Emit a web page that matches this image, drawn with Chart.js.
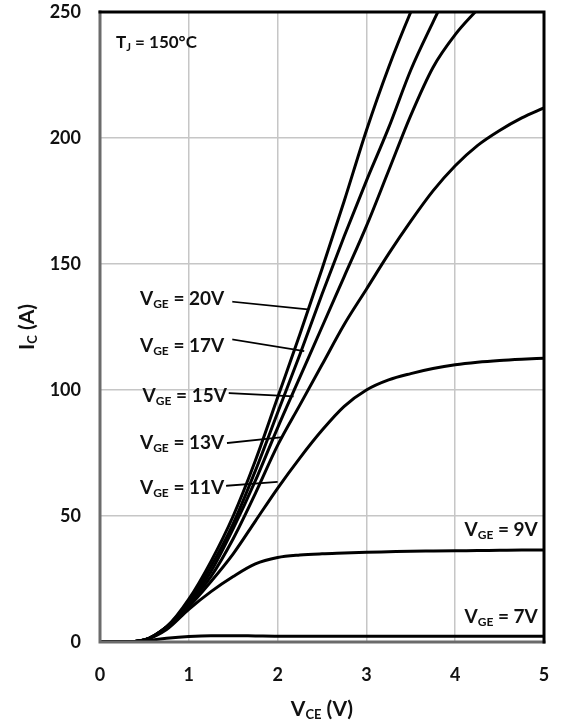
<!DOCTYPE html>
<html>
<head>
<meta charset="utf-8">
<script src="https://cdn.jsdelivr.net/npm/chart.js@4.4.1/dist/chart.umd.min.js"></script>
<style>
  html, body { margin: 0; padding: 0; background: #fff; }
  #wrap { width: 563px; height: 725px; position: relative; }
</style>
</head>
<body>
<div id="wrap"><canvas id="ic-chart"></canvas></div>
<script>
// V_CE sample points (V)
const vce = [0, 0.25, 0.5, 0.75, 1, 1.25, 1.5, 1.75, 2, 2.25, 2.5, 2.75, 3, 3.25, 3.5, 3.75, 4, 4.25, 4.5, 4.75, 5];

// I_C (A) per gate voltage (null = off the top of the plot)
const vge20 = [0, 0, 0.8, 6, 17, 32, 50, 72, 97, 122, 148, 175, 203, 228, 250, 270, null, null, null, null, null];
const vge17 = [0, 0, 0.8, 6, 16, 30, 47, 68, 91, 114, 138, 161, 183, 204, 227, 246, 264, null, null, null, null];
const vge15 = [0, 0, 0.8, 6, 15.5, 28, 45, 64, 85, 105, 125, 145, 165, 187, 209, 228, 241, 251, 261, null, null];
const vge13 = [0, 0, 0.8, 6, 15, 26, 41, 59, 78, 94, 110, 126, 140, 154, 167, 179, 189, 197, 203, 208, 212];
const vge11 = [0, 0, 0.8, 6, 14, 24, 35, 48, 61, 73, 84, 93.5, 100, 104, 106.5, 108.5, 110, 111, 111.7, 112.2, 112.6];
const vge9 = [0, 0, 0.8, 5, 13, 20, 26, 31, 33.5, 34.5, 35, 35.3, 35.6, 35.8, 36, 36.1, 36.2, 36.3, 36.4, 36.5, 36.5];
const vge7 = [0, 0, 0.5, 1.5, 2.2, 2.5, 2.5, 2.4, 2.3, 2.3, 2.3, 2.3, 2.3, 2.3, 2.3, 2.3, 2.3, 2.3, 2.3, 2.3, 2.3];

const xTicks = [0, 1, 2, 3, 4, 5];
const yTicks = [0, 50, 100, 150, 200, 250];

const series = [
    { name: '20V', values: vge20 },
    { name: '17V', values: vge17 },
    { name: '15V', values: vge15 },
    { name: '13V', values: vge13 },
    { name: '11V', values: vge11 },
    { name: '9V', values: vge9 },
    { name: '7V', values: vge7 },
];

const FONT = 'Lato, "Open Sans", sans-serif';

// curve labels: text anchor and leader line, in data units (V, A)
const curveLabels = [
    { v: '20V', at: [0.45, 136], align: 'left', lead: [[1.50, 135], [2.33, 132]] },
    { v: '17V', at: [0.45, 117.5], align: 'left', lead: [[1.50, 120], [2.29, 115.5]] },
    { v: '15V', at: [0.48, 97.6], align: 'left', lead: [[1.46, 98.8], [2.17, 97.5]] },
    { v: '13V', at: [0.45, 79], align: 'left', lead: [[1.44, 79], [2.05, 81.3]] },
    { v: '11V', at: [0.45, 61], align: 'left', lead: [[1.43, 62], [1.99, 63.5]] },
    { v: '9V', at: [4.93, 44.4], align: 'right' },
    { v: '7V', at: [4.93, 9.9], align: 'right' },
];

// draw text made of normal / subscript parts
function richText(ctx, parts, x, y, size, align) {
    const sub = Math.round(size * 0.62);
    let total = 0;
    parts.forEach((p) => {
        ctx.font = `bold ${p.sub ? sub : size}px ${FONT}`;
        p.w = ctx.measureText(p.t).width;
        total += p.w;
    });
    let cx = align === 'right' ? x - total : align === 'center' ? x - total / 2 : x;
    ctx.textBaseline = 'middle';
    ctx.textAlign = 'left';
    parts.forEach((p) => {
        ctx.font = `bold ${p.sub ? sub : size}px ${FONT}`;
        ctx.fillText(p.t, cx, p.sub ? y + size * 0.28 : y);
        cx += p.w;
    });
}

const decorations = {
    id: 'decorations',
    afterDraw(chart) {
        const { ctx, chartArea: a, scales } = chart;
        const xs = scales.x, ys = scales.y;
        ctx.save();

        // frame: grey left/bottom, black top/right
        ctx.lineCap = 'square';
        ctx.lineWidth = 3;
        ctx.strokeStyle = '#6b6b6b';
        ctx.beginPath();
        ctx.moveTo(a.left, a.top);
        ctx.lineTo(a.left, a.bottom);
        ctx.lineTo(a.right, a.bottom);
        ctx.stroke();
        ctx.strokeStyle = '#000';
        ctx.beginPath();
        ctx.moveTo(a.left, a.top);
        ctx.lineTo(a.right, a.top);
        ctx.lineTo(a.right, a.bottom);
        ctx.stroke();

        ctx.fillStyle = '#111';
        ctx.strokeStyle = '#000';
        ctx.lineWidth = 1.8;
        curveLabels.forEach((l) => {
            richText(ctx, [{ t: 'V' }, { t: 'GE', sub: true }, { t: ' = ' + l.v }],
                xs.getPixelForValue(l.at[0]), ys.getPixelForValue(l.at[1]), 19, l.align);
            if (l.lead) {
                ctx.beginPath();
                ctx.moveTo(xs.getPixelForValue(l.lead[0][0]), ys.getPixelForValue(l.lead[0][1]));
                ctx.lineTo(xs.getPixelForValue(l.lead[1][0]), ys.getPixelForValue(l.lead[1][1]));
                ctx.stroke();
            }
        });

        richText(ctx, [{ t: 'T' }, { t: 'J', sub: true }, { t: ' = 150°C' }],
            xs.getPixelForValue(0.18), ys.getPixelForValue(237.7), 17, 'left');

        // axis titles
        richText(ctx, [{ t: 'V' }, { t: 'CE', sub: true }, { t: ' (V)' }],
            (a.left + a.right) / 2, 709, 21, 'center');
        ctx.translate(27, 327);
        ctx.rotate(-Math.PI / 2);
        richText(ctx, [{ t: 'I' }, { t: 'C', sub: true }, { t: ' (A)' }], 0, 0, 21, 'center');

        ctx.restore();
    },
};

const canvas = document.getElementById('ic-chart');
new Chart(canvas, {
    type: 'line',
    data: {
        datasets: series.map((s) => ({
            label: 'VGE = ' + s.name,
            data: vce.map((v, i) => ({ x: v, y: s.values[i] })).filter((p) => p.y !== null),
            borderColor: '#000',
            borderWidth: 3,
            pointRadius: 0,
            fill: false,
            cubicInterpolationMode: 'monotone',
        })),
    },
    options: {
        responsive: true,
        maintainAspectRatio: false,
        animation: false,
        layout: { padding: { top: 12, right: 19, left: 0, bottom: 0 } },
        scales: {
            x: {
                type: 'linear',
                min: 0,
                max: 5,
                afterFit: (s) => { s.height = 83; s.paddingLeft = 0; s.paddingRight = 0; },
                afterBuildTicks: (s) => { s.ticks = xTicks.map((v) => ({ value: v })); },
                grid: { color: '#c6c6c6', lineWidth: 1.5, drawTicks: false },
                border: { display: false },
                ticks: { padding: 22, color: '#111', font: { family: FONT, size: 18, weight: 'bold' } },
            },
            y: {
                min: 0,
                max: 250,
                afterFit: (s) => { s.width = 100; s.paddingTop = 0; s.paddingBottom = 0; },
                afterBuildTicks: (s) => { s.ticks = yTicks.map((v) => ({ value: v })); },
                grid: { color: '#c6c6c6', lineWidth: 1.5, drawTicks: false },
                border: { display: false },
                ticks: { padding: 19, color: '#111', font: { family: FONT, size: 18, weight: 'bold' } },
            },
        },
        plugins: {
            legend: { display: false },
            tooltip: { enabled: false },
        },
    },
    plugins: [decorations],
});
</script>
</body>
</html>
